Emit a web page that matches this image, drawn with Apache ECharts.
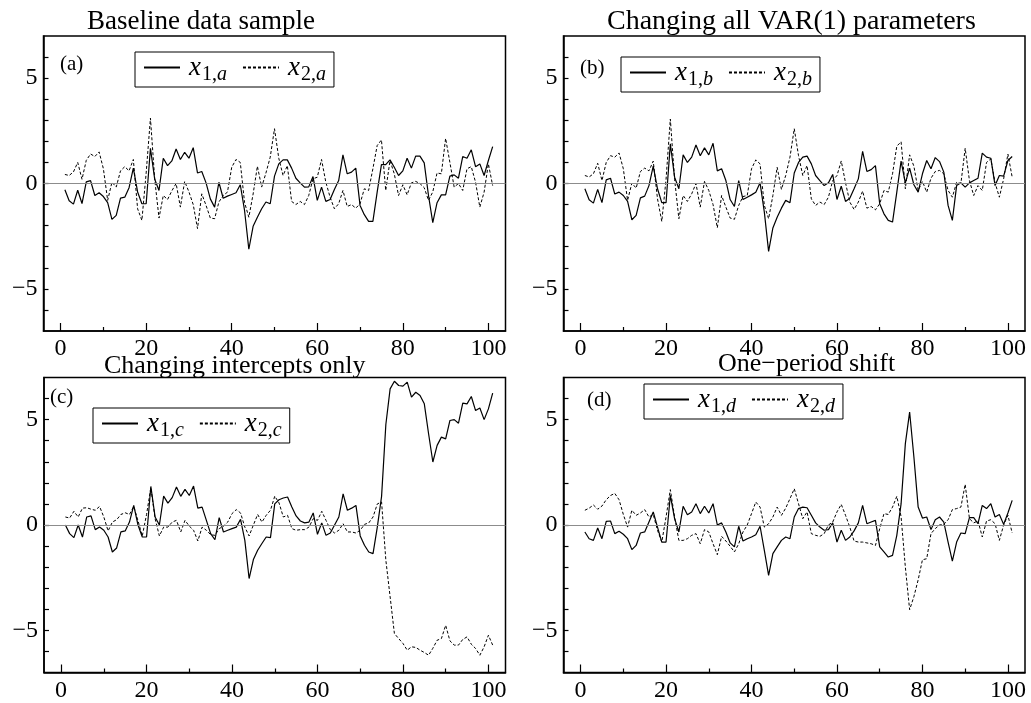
<!DOCTYPE html>
<html>
<head>
<meta charset="utf-8">
<script src="https://cdn.jsdelivr.net/npm/echarts@6/dist/echarts.min.js"></script>
<style>
html,body{margin:0;padding:0;background:#fff;}
#chart{width:1031px;height:703px;}
</style>
</head>
<body>
<div id="chart"></div>
<script>
// ---------- data (t = 1..101) ----------
var x1a = [-0.3,-0.82,-0.98,-0.32,-0.95,0.08,0.14,-0.57,-0.44,-0.62,-0.91,-1.7,-1.51,-0.69,-0.65,-0.2,0.73,-0.4,-0.96,-0.96,1.67,0.2,-0.33,1.2,0.85,1.07,1.64,1.14,1.48,1.2,1.7,0.5,0.57,0.03,-0.73,-1.12,0.06,-0.7,-0.6,-0.52,-0.44,-0.06,-1.28,-3.12,-2.03,-1.6,-1.2,-0.88,-0.96,0.35,0.93,
  1.12,1.12,0.73,0.25,0.03,-0.17,-0.16,0.33,-0.8,-0.17,-0.85,-0.76,-0.28,0.14,1.36,0.46,0.54,0.73,-1.04,-1.48,-1.8,-1.8,-0.41,0.9,0.9,1.12,0.77,0.38,0.6,1.2,0.73,1.3,1.3,0.98,-0.57,-1.86,-0.91,-0.54,-0.54,0.35,0.41,0.25,1.28,1.2,1.6,0.8,0.93,0.38,1.09,1.75];
var x2a = [0.43,0.38,0.55,1.0,0.2,1.1,1.4,1.28,1.5,0.7,-0.8,0.06,-0.17,0.6,0.8,0.6,1.14,-1.2,-1.75,0.5,3.1,0.2,-1.64,-0.57,-0.76,-0.35,0.0,-1.12,0.1,-0.4,-1.0,-2.14,-0.49,-1.04,-1.64,-1.67,-0.88,-0.57,-0.41,0.77,1.14,1.0,-0.9,-1.6,-0.5,0.82,-0.17,0.5,1.25,2.6,1.2,
  0.38,0.85,-0.85,-1.0,-0.85,-1.0,-0.57,0.22,0.3,1.14,0.06,-0.65,-1.2,-0.96,-0.33,-1.09,-1.0,-1.17,-0.96,-0.25,-0.33,0.7,1.8,2.07,-0.33,1.09,0.46,-0.57,-0.06,-0.54,0.03,0.1,0,-0.2,-0.8,-0.4,0.5,0.46,2.14,1.0,-0.17,0,-0.33,0.7,0.8,0.06,-1.12,-0.41,0.93,-0.1];
var x1b = [-0.25,-0.77,-0.93,-0.28,-0.91,0.17,0.25,-0.5,-0.41,-0.57,-0.85,-1.72,-1.51,-0.68,-0.6,-0.1,0.82,-0.25,-0.91,-0.91,1.88,0.3,-0.25,1.36,1.0,1.25,1.83,1.32,1.69,1.36,1.91,0.6,0.7,0.14,-0.76,-1.09,0.14,-0.76,-0.65,-0.54,-0.41,0.03,-1.36,-3.22,-2.11,-1.6,-1.17,-0.8,-0.91,0.5,
  1.0,1.25,1.3,0.93,0.38,0.14,-0.1,0.03,0.43,-0.76,-0.13,-0.85,-0.7,-0.25,0.22,1.53,0.57,0.66,0.85,-0.96,-1.44,-1.75,-1.83,-0.41,1.06,0.03,0.73,-0.06,-0.41,0.46,1.09,0.7,1.23,1.04,0.54,-1.04,-1.75,-0.1,0.03,-0.17,0.03,0.14,0.25,1.44,1.25,1.2,-0.1,0.38,0.35,1.09,1.28];
var x2b = [0.38,0.31,0.46,0.96,0.14,1.0,1.32,1.25,1.45,0.7,-0.8,0.02,-0.22,0.57,0.73,0.6,1.06,-0.73,-1.8,0.2,3.06,0.2,-1.67,-0.57,-0.85,-0.49,0,-1.12,0.1,-0.33,-1.0,-2.1,-0.57,-1.12,-1.64,-1.7,-1.04,-0.62,-0.57,0.7,1.12,0.93,-1.04,-1.67,-0.57,0.77,-0.28,0.38,1.25,2.6,
  1.32,0.38,0.85,-0.73,-1.04,-0.88,-1.0,-0.65,0.14,0.38,1.07,0.03,-0.88,-1.23,-0.88,-0.36,-1.17,-1.09,-1.25,-0.96,-0.33,-0.41,0.46,1.77,1.98,-0.25,1.36,0.82,-0.33,0.1,-0.41,0.25,0.57,0.62,0.46,-0.33,-0.65,0.06,0,1.67,0.14,-0.57,-0.1,-0.33,1.0,1.17,0.03,-0.65,0.22,1.4,0.3];
var x1c = [0.0,-0.41,-0.6,0.0,-0.57,0.38,0.43,-0.22,-0.1,-0.25,-0.57,-1.28,-1.09,-0.33,-0.28,0.14,0.93,0.0,-0.57,-0.57,1.83,0.38,0.0,1.37,1.04,1.3,1.8,1.36,1.69,1.4,1.85,0.8,0.85,0.22,-0.41,-0.7,0.35,-0.33,-0.25,-0.17,-0.1,0.27,-0.73,-2.54,-1.64,-1.2,-0.88,-0.57,-0.6,1.0,1.2,
  1.28,1.33,0.85,0.43,0.19,0.1,0.14,0.57,-0.44,0.1,-0.49,-0.38,0,0.38,1.48,0.7,0.8,0.93,-0.52,-0.96,-1.28,-1.36,-0.1,1.36,4.77,6.46,6.82,6.62,6.59,6.78,6.07,6.3,6.15,5.75,4.33,2.99,3.78,4.17,4.09,4.96,5.0,4.83,5.78,5.75,6.1,5.43,5.55,5.0,5.51,6.26];
var x2c = [0.38,0.33,0.65,0.38,0.8,0.82,0.75,0.7,0.88,0.38,-0.28,0.14,0.25,0.5,0.58,0.5,0.88,0.2,-0.52,0.5,1.77,0.3,-0.52,-0.1,-0.1,0.14,0.22,-0.33,0.22,-0.05,-0.25,-0.76,-0.1,-0.25,-0.46,-0.49,-0.17,-0.06,0.14,0.54,0.73,0.57,-0.1,-0.52,0,0.5,0.14,0.46,0.7,1.37,1.05,
  0.38,0.46,-0.17,-0.25,-0.22,-0.22,-0.1,0.3,0.22,0.65,0.22,-0.22,-0.38,-0.25,0.06,-0.33,-0.33,-0.38,-0.25,0.03,0.1,0.38,1.0,1.09,-1.67,-3.41,-5.15,-5.39,-5.62,-5.94,-5.78,-5.81,-5.94,-6.05,-6.18,-5.85,-5.47,-5.39,-4.76,-5.5,-5.7,-5.7,-5.43,-5.31,-5.66,-5.86,-6.18,-5.78,-5.23,-5.7];
var x1d = [-0.33,-0.65,-0.73,-0.14,-0.65,0.17,0.19,-0.41,-0.3,-0.44,-0.65,-1.17,-0.97,-0.38,-0.33,0.14,0.62,-0.1,-0.81,-0.81,1.41,0.3,-0.33,0.89,0.49,0.62,1.01,0.54,0.89,0.57,1.01,0,0.1,-0.33,-0.85,-1.04,-0.06,-0.76,-0.65,-0.57,-0.46,-0.06,-1.2,-2.39,-1.36,-1.04,-0.73,-0.57,-0.65,0.38,
  0.78,0.85,0.82,0.46,0.1,-0.1,-0.25,-0.22,0.1,-0.81,-0.25,-0.73,-0.57,-0.28,0.1,0.93,0.06,0.14,0.22,-1.04,-1.28,-1.52,-1.44,-0.49,1.0,3.86,5.36,3.23,0.85,0.33,0.38,-0.22,0.25,0.38,0.14,-0.81,-1.71,-0.81,-0.38,-0.41,0.35,0.35,0.06,0.93,0.78,1.01,0.38,0.5,0.03,0.57,1.17];
var x2d = [0.7,0.8,0.95,0.75,0.9,1.2,1.4,1.5,1.2,0.5,-0.1,0.7,0.46,0.57,0.73,0.38,0.5,-0.25,-0.81,0.38,1.68,0.38,-0.73,-0.73,-0.65,-0.49,-0.41,-0.89,-0.22,-0.33,-0.89,-1.41,-0.54,-0.76,-1.01,-1.28,-0.89,-0.33,0,0.54,1.09,0.85,-0.1,0.06,0.38,0.85,0.46,0.8,1.25,1.72,
  1.01,0.3,0.62,-0.41,-0.49,-0.54,-0.41,0,0.14,0.62,0.98,0.46,-0.1,-0.76,-0.81,-0.81,-0.85,-0.89,-0.97,-0.17,0.54,0.5,0.85,1.36,0.4,-2.0,-4.02,-3.4,-2.6,-1.65,-1.6,-0.41,-0.17,0,0.03,0.25,0.73,0.78,0.85,1.93,0.3,0.1,0.2,-0.57,0.19,0.25,0.06,-0.73,0,0.46,-0.38];

var titles = ['Baseline data sample', 'Changing all VAR(1) parameters', 'Changing intercepts only', 'One\u2212period shift'];
var panelTags = ['(a)', '(b)', '(c)', '(d)'];
var panelLetters = ['a', 'b', 'c', 'd'];
var xMajorTicks = [0, 20, 40, 60, 80, 100];
var xMinorTicks = [10, 30, 50, 70, 90];
var yLabelTicks = [-5, 0, 5];
var yTicks = [-6, -5, -4, -3, -2, -1, 0, 1, 2, 3, 4, 5, 6];

var solidSets = [x1a, x1b, x1c, x1d];
var dashedSets = [x2a, x2b, x2c, x2d];

// ---------- layout ----------
var FONT = 'Liberation Serif';
var gridPos = [
  {left: 43.5, top: 36, width: 462, height: 295},
  {left: 563.5, top: 36, width: 461.5, height: 295},
  {left: 44, top: 377.5, width: 461.5, height: 295},
  {left: 563.5, top: 377.5, width: 461.5, height: 295}
];
var titlePos = [{left: 87, top: 8, size: 27}, {left: 607, top: 8, size: 28}, {left: 104, top: 353, size: 26}, {left: 718, top: 351, size: 26}];
var tagPos = [{left: 60, top: 54}, {left: 580, top: 58}, {left: 50, top: 387}, {left: 587, top: 390}];
var legendPos = [{left: 135, top: 52}, {left: 621, top: 57}, {left: 93, top: 408}, {left: 644, top: 384}];

function toXY(arr) { return arr.map(function (v, i) { return [i + 1, v]; }); }
function minusFmt(v) { return v < 0 ? '\u2212' + Math.abs(v) : String(v); }

var grids = [], xAxes = [], yAxes = [], series = [], legends = [], titleList = [];
for (var i = 0; i < 4; i++) {
  var g = gridPos[i];
  grids.push({left: g.left, top: g.top, width: g.width, height: g.height, show: true,
    borderColor: '#000', borderWidth: 1.5, backgroundColor: 'transparent', containLabel: false});
  xAxes.push({
    type: 'value', gridIndex: i, min: -4, max: 104, position: 'bottom',
    axisLine: {show: true, onZero: false, lineStyle: {color: '#000', width: 1.5}},
    axisTick: {show: true, inside: true, length: 8, customValues: xMajorTicks, lineStyle: {color: '#000', width: 1.2}},
    axisLabel: {show: true, customValues: xMajorTicks, fontFamily: FONT, fontSize: 24, color: '#000', margin: 6},
    splitLine: {show: false}
  });
  xAxes.push({
    type: 'value', gridIndex: i, min: -4, max: 104, position: 'bottom',
    axisLine: {show: false, onZero: false},
    axisTick: {show: true, inside: true, length: 4, customValues: xMinorTicks, lineStyle: {color: '#000', width: 1.2}},
    axisLabel: {show: false},
    splitLine: {show: false}
  });
  yAxes.push({
    type: 'value', gridIndex: i, min: -7, max: 7,
    axisLine: {show: true, onZero: false, lineStyle: {color: '#000', width: 1.5}},
    axisTick: {show: true, inside: true, length: 5, customValues: yTicks, lineStyle: {color: '#000', width: 1.2}},
    axisLabel: {show: true, customValues: yLabelTicks, formatter: minusFmt, fontFamily: FONT, fontSize: 24, color: '#000', margin: 6},
    splitLine: {show: false}
  });
  var L = panelLetters[i];
  var n1 = 'x1' + L, n2 = 'x2' + L;
  series.push({
    name: n1, type: 'line', xAxisIndex: 2 * i, yAxisIndex: i, data: toXY(solidSets[i]),
    symbol: 'none', showSymbol: false, lineStyle: {color: '#000', width: 1.2, type: 'solid'},
    itemStyle: {color: '#000'}, z: 3,
    markLine: {silent: true, symbol: 'none', label: {show: false},
      lineStyle: {color: '#8c8c8c', width: 1.2, type: 'solid'}, data: [{yAxis: 0}], animation: false}
  });
  series.push({
    name: n2, type: 'line', xAxisIndex: 2 * i, yAxisIndex: i, data: toXY(dashedSets[i]),
    symbol: 'none', showSymbol: false, lineStyle: {color: '#000', width: 1, type: [3, 2]},
    itemStyle: {color: '#000'}, z: 3
  });
  legends.push({
    data: [n1, n2], left: legendPos[i].left, top: legendPos[i].top, orient: 'horizontal',
    itemWidth: 36, itemHeight: 14, itemGap: 15, padding: [2, 8, 2, 8],
    borderColor: '#000', borderWidth: 1, backgroundColor: '#fff',
    selectedMode: false,
    itemStyle: {opacity: 0, borderWidth: 0},
    formatter: function (name) {
      return '{x|x}{s|' + name.charAt(1) + ',}{si|' + name.charAt(2) + '}';
    },
    textStyle: {
      color: '#000',
      rich: {
        x: {fontFamily: FONT, fontStyle: 'italic', fontSize: 27, lineHeight: 27, verticalAlign: 'top', padding: [0, 0, 0, 4], color: '#000'},
        s: {fontFamily: FONT, fontSize: 20, lineHeight: 20, padding: [11, 0, 0, 1], verticalAlign: 'top', color: '#000'},
        si: {fontFamily: FONT, fontStyle: 'italic', fontSize: 20, lineHeight: 20, padding: [11, 0, 0, 0], verticalAlign: 'top', color: '#000'}
      }
    }
  });
  titleList.push({text: titles[i], left: titlePos[i].left, top: titlePos[i].top, padding: 0,
    textStyle: {fontFamily: FONT, fontSize: titlePos[i].size, fontWeight: 'normal', color: '#000'}});
  titleList.push({text: panelTags[i], left: tagPos[i].left, top: tagPos[i].top, padding: 0,
    textStyle: {fontFamily: FONT, fontSize: 21, fontWeight: 'normal', color: '#000'}});
}

var chart = echarts.init(document.getElementById('chart'), null, {renderer: 'canvas'});
chart.setOption({
  animation: false,
  backgroundColor: '#fff',
  title: titleList,
  legend: legends,
  grid: grids,
  xAxis: xAxes,
  yAxis: yAxes,
  series: series
});
</script>
</body>
</html>
